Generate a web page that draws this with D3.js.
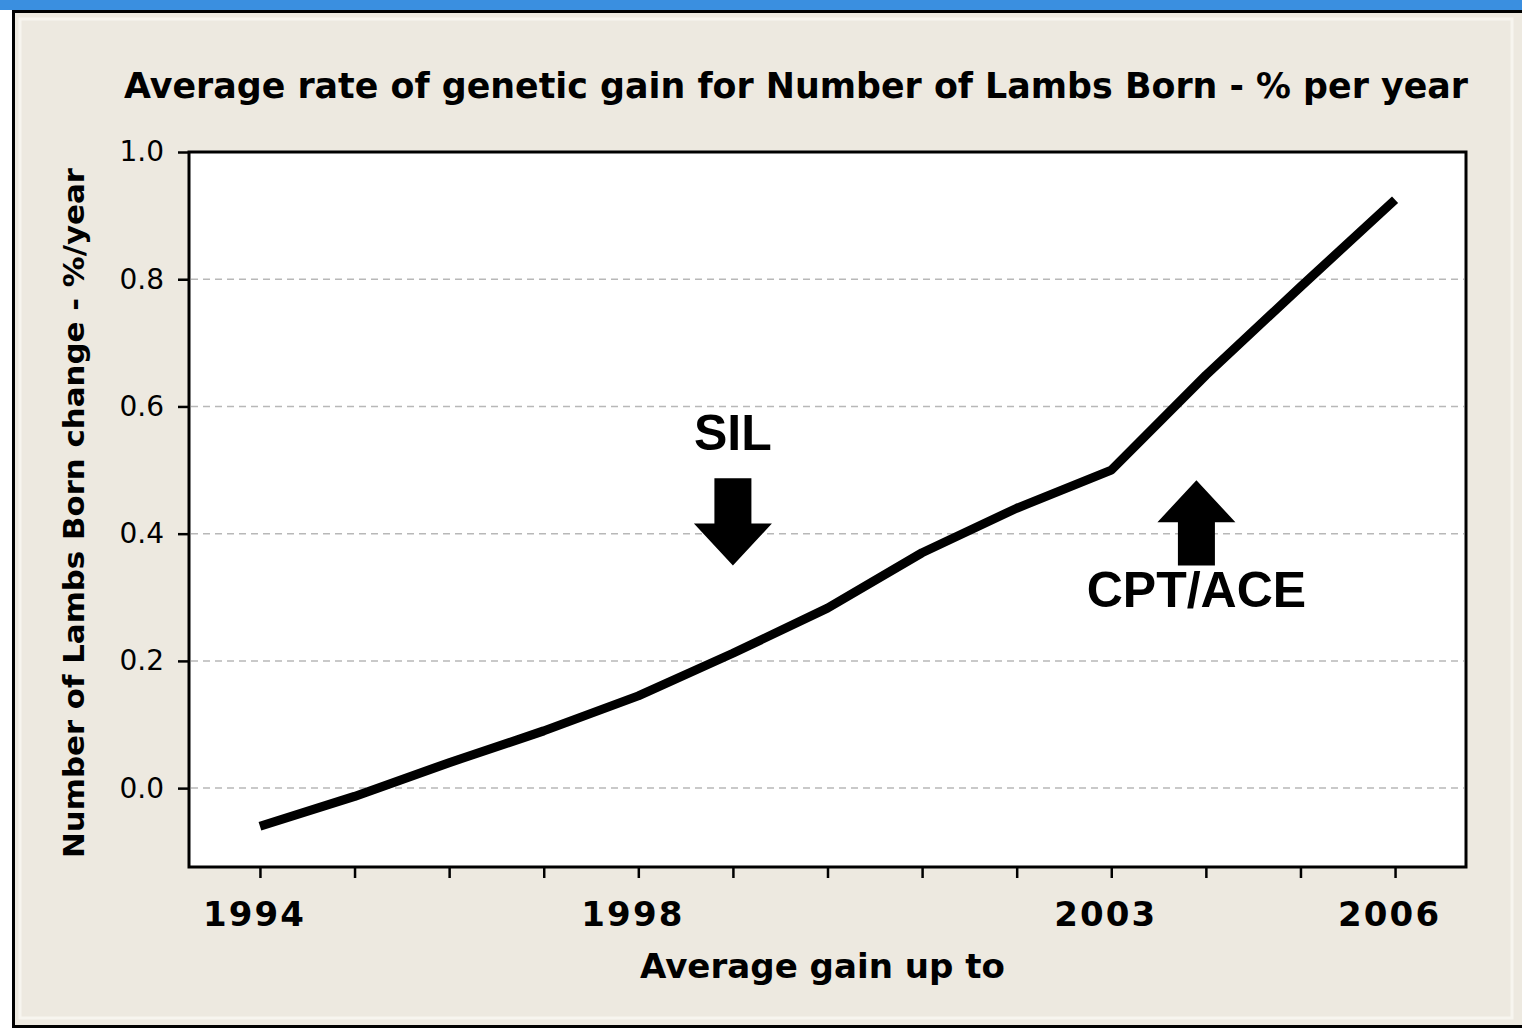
<!DOCTYPE html>
<html>
<head>
<meta charset="utf-8">
<script src="https://cdn.jsdelivr.net/npm/d3@7"></script>
<style>
    body { margin: 0; background: #fff; }
    svg { display: block; }
</style>
</head>
<body>
<script>
// dimensions
const width = 1522;
const height = 1029;

// data
const years = [1994, 1995, 1996, 1997, 1998, 1999, 2000, 2001, 2002, 2003, 2004, 2005, 2006];
const gain = [-0.06, -0.013, 0.04, 0.09, 0.145, 0.212, 0.283, 0.37, 0.44, 0.50, 0.649, 0.788, 0.925];
const yearLabels = [1994, 1998, 2003, 2006];
const yTicks = [0.0, 0.2, 0.4, 0.6, 0.8, 1.0];
const gridTicks = [0.0, 0.2, 0.4, 0.6, 0.8];

// the two arrows with their labels
const annotationLabels = ["SIL", "CPT/ACE"];
const annotationYears = [1999, 2003.9];
const annotationTail = [0.487, 0.35];
const annotationTip = [0.35, 0.484];

const title = "Average rate of genetic gain for Number of Lambs Born - % per year";
const xTitle = "Average gain up to";
const yTitle = "Number of Lambs Born change - %/year";

const bg = "#ede9e0";
const plot = { left: 189, top: 152, right: 1466, bottom: 867 };

let svg = d3.select("body")
    .append("svg")
    .attr("width", width)
    .attr("height", height);

// window chrome: beige panel with a black frame and a blue strip on top
svg.append("rect").attr("width", width).attr("height", height).attr("fill", "#fff");
svg.append("rect")
    .attr("x", 12).attr("y", 10)
    .attr("width", width - 12).attr("height", height - 12)
    .attr("fill", bg);
svg.append("rect")
    .attr("x", 20).attr("y", 19)
    .attr("width", width - 30).attr("height", height - 30)
    .attr("fill", "none")
    .attr("stroke", "#f7f5ef")
    .attr("stroke-width", 3);
svg.append("path")
    .attr("d", "M13.5," + (height - 3) + "V11.5H" + width)
    .attr("fill", "none")
    .attr("stroke", "#000")
    .attr("stroke-width", 3);
svg.append("line")
    .attr("x1", 12).attr("x2", width)
    .attr("y1", height - 2.5).attr("y2", height - 2.5)
    .attr("stroke", "#000")
    .attr("stroke-width", 3);
svg.append("rect").attr("width", width).attr("height", 10).attr("fill", "#3a8fe0");

// scales
let x = d3.scaleLinear()
    .domain([1993.25, 2006.75])
    .range([plot.left, plot.right]);
let y = d3.scaleLinear()
    .domain([-0.124, 1.0])
    .range([plot.bottom, plot.top]);

// white plot area
svg.append("rect")
    .attr("x", plot.left).attr("y", plot.top)
    .attr("width", plot.right - plot.left)
    .attr("height", plot.bottom - plot.top)
    .attr("fill", "#fff");

// dashed grid lines
svg.selectAll(".grid")
    .data(gridTicks)
    .enter()
    .append("line")
    .attr("class", "grid")
    .attr("x1", plot.left + 2).attr("x2", plot.right - 2)
    .attr("y1", d => y(d)).attr("y2", d => y(d))
    .attr("stroke", "#b8b8b8")
    .attr("stroke-width", 1.5)
    .attr("stroke-dasharray", "7,5");

// y axis
let yAxis = svg.append("g")
    .attr("transform", "translate(" + plot.left + ",0)")
    .call(d3.axisLeft(y)
        .tickValues(yTicks)
        .tickFormat(d3.format(".1f"))
        .tickSize(11)
        .tickPadding(14));
yAxis.select(".domain").remove();
yAxis.selectAll(".tick line").attr("stroke", "#000").attr("stroke-width", 2.5);
yAxis.selectAll(".tick text")
    .attr("fill", "#000")
    .style("font-family", "'DejaVu Sans', Verdana, sans-serif")
    .style("font-size", "28px");

// x axis: a tick every year, labels on a few
let xAxis = svg.append("g")
    .attr("transform", "translate(0," + plot.bottom + ")")
    .call(d3.axisBottom(x)
        .tickValues(years)
        .tickFormat(d => yearLabels.includes(d) ? d : "")
        .tickSize(11)
        .tickPadding(16));
xAxis.select(".domain").remove();
xAxis.selectAll(".tick line").attr("stroke", "#000").attr("stroke-width", 2.5);
xAxis.selectAll(".tick text")
    .attr("fill", "#000")
    .attr("dy", "0.95em")
    .attr("dx", -7)
    .attr("textLength", d => yearLabels.includes(d) ? 101 : null)
    .attr("lengthAdjust", "spacing")
    .style("font-family", "'DejaVu Sans', Verdana, sans-serif")
    .style("font-weight", "bold")
    .style("font-size", "34px");

// plot frame
svg.append("rect")
    .attr("x", plot.left).attr("y", plot.top)
    .attr("width", plot.right - plot.left)
    .attr("height", plot.bottom - plot.top)
    .attr("fill", "none")
    .attr("stroke", "#000")
    .attr("stroke-width", 3);

// the series
let line = d3.line()
    .x((d, i) => x(years[i]))
    .y(d => y(d));

svg.append("path")
    .datum(gain)
    .attr("d", line)
    .attr("fill", "none")
    .attr("stroke", "#000")
    .attr("stroke-width", 9)
    .attr("stroke-linejoin", "round")
    .attr("stroke-linecap", "butt");

// arrows: shaft and head drawn between tail and tip values
function arrowPath(i) {
    let cx = x(annotationYears[i]);
    let y0 = y(annotationTail[i]);
    let y1 = y(annotationTip[i]);
    let dir = y1 > y0 ? 1 : -1;
    let headLen = 42;
    let shaftHalf = 18.5;
    let headHalf = 39;
    let yb = y1 - dir * headLen;
    return "M" + (cx - shaftHalf) + "," + y0 +
        "V" + yb + "H" + (cx - headHalf) +
        "L" + cx + "," + y1 +
        "L" + (cx + headHalf) + "," + yb +
        "H" + (cx + shaftHalf) + "V" + y0 + "Z";
}

svg.selectAll(".arrow")
    .data(annotationLabels)
    .enter()
    .append("path")
    .attr("class", "arrow")
    .attr("d", (d, i) => arrowPath(i))
    .attr("fill", "#000");

// arrow labels: above a down arrow, below an up arrow
svg.selectAll(".note")
    .data(annotationLabels)
    .enter()
    .append("text")
    .attr("class", "note")
    .attr("x", (d, i) => x(annotationYears[i]))
    .attr("y", (d, i) => {
        let down = annotationTip[i] < annotationTail[i];
        return down ? y(annotationTail[i]) - 28 : y(annotationTail[i]) + 42;
    })
    .attr("text-anchor", "middle")
    .style("font-family", "'Liberation Sans', Arial, sans-serif")
    .style("font-weight", "bold")
    .style("font-size", "50px")
    .text(d => d);

// titles
svg.append("text")
    .attr("x", 124).attr("y", 98)
    .attr("textLength", 1344)
    .attr("lengthAdjust", "spacingAndGlyphs")
    .style("font-family", "'DejaVu Sans', Verdana, sans-serif")
    .style("font-weight", "bold")
    .style("font-size", "36px")
    .text(title);

svg.append("text")
    .attr("x", 640).attr("y", 978)
    .attr("textLength", 365)
    .attr("lengthAdjust", "spacingAndGlyphs")
    .style("font-family", "'DejaVu Sans', Verdana, sans-serif")
    .style("font-weight", "bold")
    .style("font-size", "33px")
    .text(xTitle);

svg.append("text")
    .attr("transform", "translate(84,858) rotate(-90)")
    .attr("textLength", 690)
    .attr("lengthAdjust", "spacingAndGlyphs")
    .style("font-family", "'DejaVu Sans', Verdana, sans-serif")
    .style("font-weight", "bold")
    .style("font-size", "29px")
    .text(yTitle);
</script>
</body>
</html>
